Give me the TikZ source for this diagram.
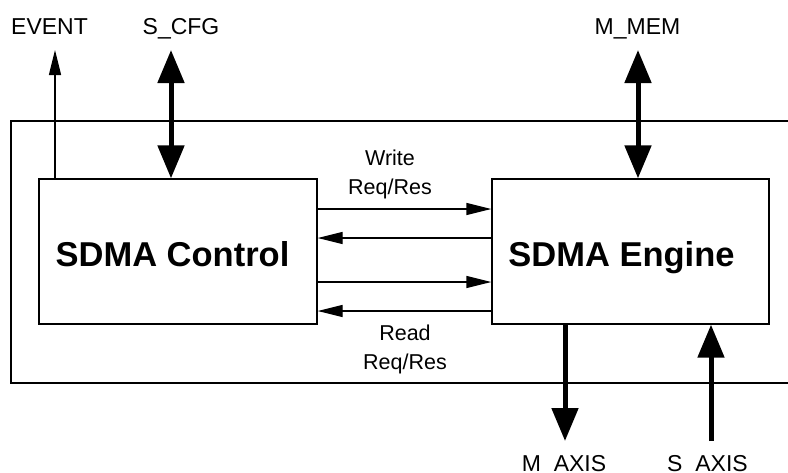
\documentclass[tikz,border=0pt]{standalone}
\usepackage{fontspec}
\setmainfont{Liberation Sans}
\usetikzlibrary{arrows.meta}
\begin{document}
\begin{tikzpicture}[x=1pt,y=-1pt,
  line width=1.3pt,
  block/.style={draw, line width=1.3pt, inner sep=0pt, minimum height=145pt},
  title/.style={font=\fontsize{34.5}{40}\selectfont\bfseries, inner sep=0pt, anchor=base},
  port/.style={font=\fontsize{23}{27}\selectfont, inner sep=0pt, anchor=base},
  note/.style={font=\fontsize{21.5}{29}\selectfont, align=center, inner sep=0pt, anchor=north},
  sig/.style={line width=1.3pt, -{Triangle[length=25pt,width=12pt]}},
  busboth/.style={line width=5pt, {Triangle[length=33pt,width=26pt]}-{Triangle[length=33pt,width=26pt]}},
  busone/.style={line width=5pt, -{Triangle[length=33pt,width=26pt]}}]
\useasboundingbox (0,0) rectangle (788,472);

% enclosing frame, open to the right
\draw (800,121) -| (11,383) -- (800,383);

% the two blocks
\node[block, minimum width=278pt] (ctrl) at (178,251.5) {};
\node[block, minimum width=277pt] (eng) at (630.5,251.5) {};
\node[title] (ctrltxt) at (172.5,266.5) {SDMA Control};
\node[title] (engtxt) at (621.5,266.5) {SDMA Engine};

% port labels
\node[port] (event) at (49.5,34) {EVENT};
\node[port] (scfg) at (181,34) {S\_CFG};
\node[port] (mmem) at (637.5,34) {M\_MEM};
\node[port] (maxis) at (564,471) {M\_AXIS};
\node[port] (saxis) at (707.5,471) {S\_AXIS};

% free ends of the port connectors
\coordinate (evtip) at (55,50);
\coordinate (cfgtip) at (171,50);
\coordinate (memtip) at (638,50);
\coordinate (mtip) at (565,441);
\coordinate (stail) at (711,441);

\draw[sig] (ctrl.north -| evtip) -- (evtip);
\draw[busboth] (ctrl.north -| cfgtip) -- (cfgtip);
\draw[busboth] (eng.north -| memtip) -- (memtip);
\draw[busone] (eng.south -| mtip) -- (mtip);
\draw[busone] (stail) -- (eng.south -| stail);

% request / response channels
\draw[sig] (ctrl.east |- 0,209) -- (eng.west |- 0,209);
\draw[sig] (eng.west |- 0,238) -- (ctrl.east |- 0,238);
\draw[sig] (ctrl.east |- 0,282) -- (eng.west |- 0,282);
\draw[sig] (eng.west |- 0,311) -- (ctrl.east |- 0,311);

\node[note] (wlab) at (390,149.5) {Write\\Req/Res};
\node[note] (rlab) at (405,324.5) {Read\\Req/Res};
\end{tikzpicture}
\end{document}
